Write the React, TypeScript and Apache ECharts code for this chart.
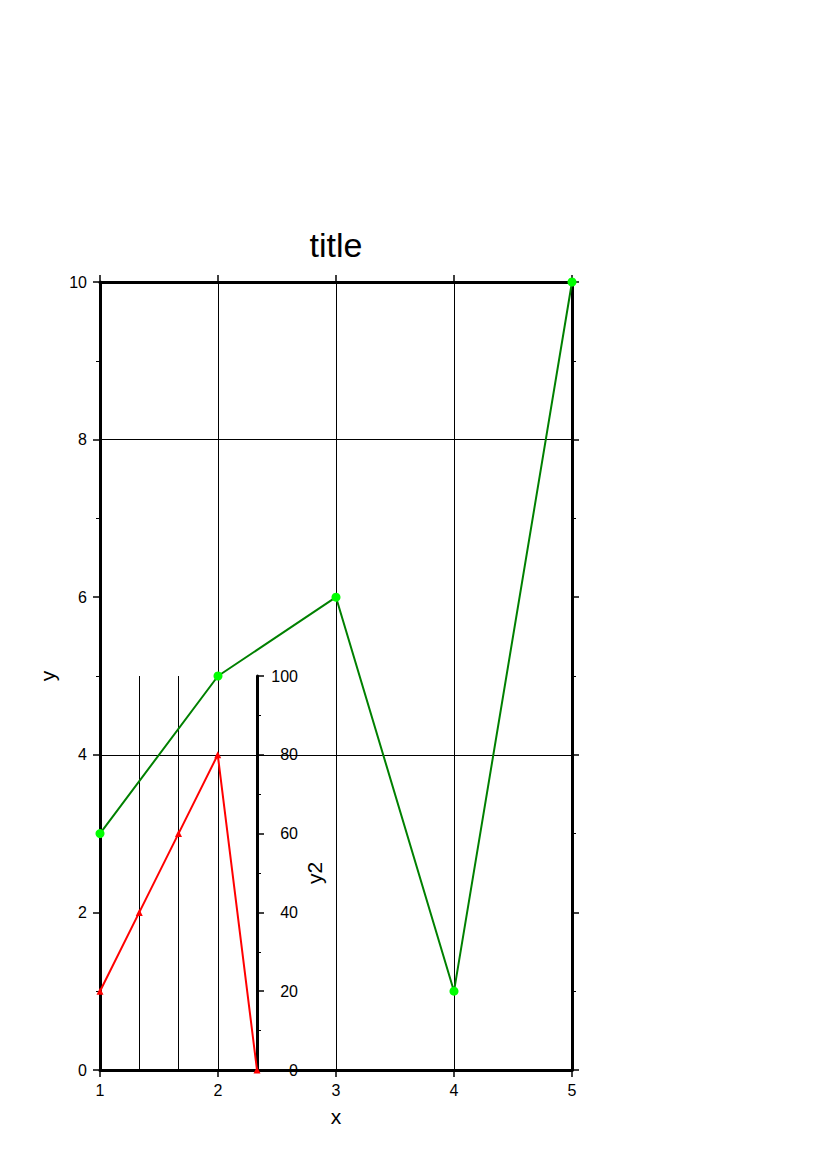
import React, { useEffect, useRef } from "react";
import * as echarts from "echarts";

const mainX = [1, 2, 3, 4, 5];
const mainY = [3, 5, 6, 1, 10];
const insetX = [0, 1, 2, 3, 4];
const insetY2 = [20, 40, 60, 80, 0];
const titleText = "title";
const xName = "x";
const yName = "y";
const y2Name = "y2";

const FONT = "Liberation Sans, Arial, Helvetica, sans-serif";

export default function App() {
  const ref = useRef<HTMLDivElement>(null);
  useEffect(() => {
    if (!ref.current) return;
    const chart = echarts.init(ref.current, undefined, { renderer: "svg" });
    const frameLine = { show: true, onZero: false, lineStyle: { color: "#000", width: 3 } };
    const grid1px = { show: true, lineStyle: { color: "#000", width: 1 } };
    const label = { color: "#000", fontSize: 16, fontFamily: FONT };
    chart.setOption({
      animation: false,
      backgroundColor: "#fff",
      graphic: [
        {
          type: "text",
          x: 336,
          y: 245,
          style: {
            text: titleText,
            fontSize: 34,
            fontFamily: FONT,
            fill: "#000",
            textAlign: "center",
            textVerticalAlign: "middle",
          },
        },
      ],
      grid: [
        { left: 100, top: 282, width: 472, height: 788, containLabel: false },
        { left: 100, top: 676, width: 157, height: 394, containLabel: false },
      ],
      xAxis: [
        {
          gridIndex: 0,
          type: "value",
          min: 1,
          max: 5,
          interval: 1,
          position: "bottom",
          name: xName,
          nameLocation: "middle",
          nameGap: 36,
          nameTextStyle: { fontSize: 21, color: "#000", fontFamily: FONT },
          axisLine: frameLine,
          axisTick: { show: true, inside: false, length: 7, lineStyle: { color: "#000", width: 1.5 } },
          axisLabel: { ...label, margin: 12 },
          splitLine: grid1px,
          z: 1,
        },
        {
          gridIndex: 0,
          type: "value",
          min: 1,
          max: 5,
          interval: 1,
          position: "top",
          axisLine: frameLine,
          axisTick: { show: true, inside: false, length: 7, lineStyle: { color: "#000", width: 1.5 } },
          axisLabel: { show: false },
          splitLine: { show: false },
        },
        {
          gridIndex: 1,
          type: "value",
          min: 0,
          max: 4,
          interval: 1,
          axisLine: { show: false },
          axisTick: { show: false },
          axisLabel: { show: false },
          splitLine: grid1px,
        },
      ],
      yAxis: [
        {
          gridIndex: 0,
          type: "value",
          min: 0,
          max: 10,
          interval: 2,
          position: "left",
          name: yName,
          nameLocation: "middle",
          nameRotate: 90,
          nameGap: 40,
          nameTextStyle: { fontSize: 21, color: "#000", fontFamily: FONT },
          axisLine: frameLine,
          axisTick: { show: true, inside: false, length: 7, lineStyle: { color: "#000", width: 1.5 } },
          minorTick: { show: true, splitNumber: 2, length: 4, lineStyle: { color: "#000", width: 1 } },
          axisLabel: { ...label, margin: 13 },
          splitLine: { show: false },
        },
        {
          gridIndex: 0,
          type: "value",
          min: 0,
          max: 10,
          interval: 2,
          position: "right",
          axisLine: frameLine,
          axisTick: { show: true, inside: false, length: 7, lineStyle: { color: "#000", width: 1.5 } },
          minorTick: { show: true, splitNumber: 2, length: 4, lineStyle: { color: "#000", width: 1 } },
          axisLabel: { show: false },
          splitLine: { show: false },
        },
        {
          gridIndex: 0,
          type: "value",
          min: 0,
          max: 10,
          interval: 4,
          position: "left",
          axisLine: { show: false },
          axisTick: { show: false },
          axisLabel: { show: false },
          splitLine: grid1px,
        },
        {
          gridIndex: 1,
          type: "value",
          min: 0,
          max: 100,
          interval: 20,
          position: "right",
          name: y2Name,
          nameLocation: "middle",
          nameRotate: 90,
          nameGap: 47,
          nameTextStyle: { fontSize: 21, color: "#000", fontFamily: FONT },
          axisLine: frameLine,
          axisTick: { show: true, inside: false, length: 7, lineStyle: { color: "#000", width: 1.5 } },
          minorTick: { show: true, splitNumber: 2, length: 4, lineStyle: { color: "#000", width: 1 } },
          axisLabel: { ...label, margin: 41, align: "right" },
          splitLine: { show: false },
        },
      ],
      series: [
        {
          type: "line",
          xAxisIndex: 0,
          yAxisIndex: 0,
          data: mainX.map((x, i) => [x, mainY[i]]),
          lineStyle: { color: "#008000", width: 2 },
          itemStyle: { color: "#00ff00" },
          symbol: "circle",
          symbolSize: 9,
          showAllSymbol: true,
          clip: false,
          z: 3,
        },
        {
          type: "line",
          xAxisIndex: 2,
          yAxisIndex: 3,
          data: insetX.map((x, i) => [x, insetY2[i]]),
          lineStyle: { color: "#ff0000", width: 2 },
          itemStyle: { color: "#ff0000" },
          symbol: "triangle",
          symbolSize: 7,
          showAllSymbol: true,
          clip: false,
          z: 4,
        },
      ],
    });
    return () => chart.dispose();
  }, []);
  return (
    <div
      ref={ref}
      style={{ position: "fixed", left: 0, top: 0, width: 827, height: 1170 }}
    />
  );
}
